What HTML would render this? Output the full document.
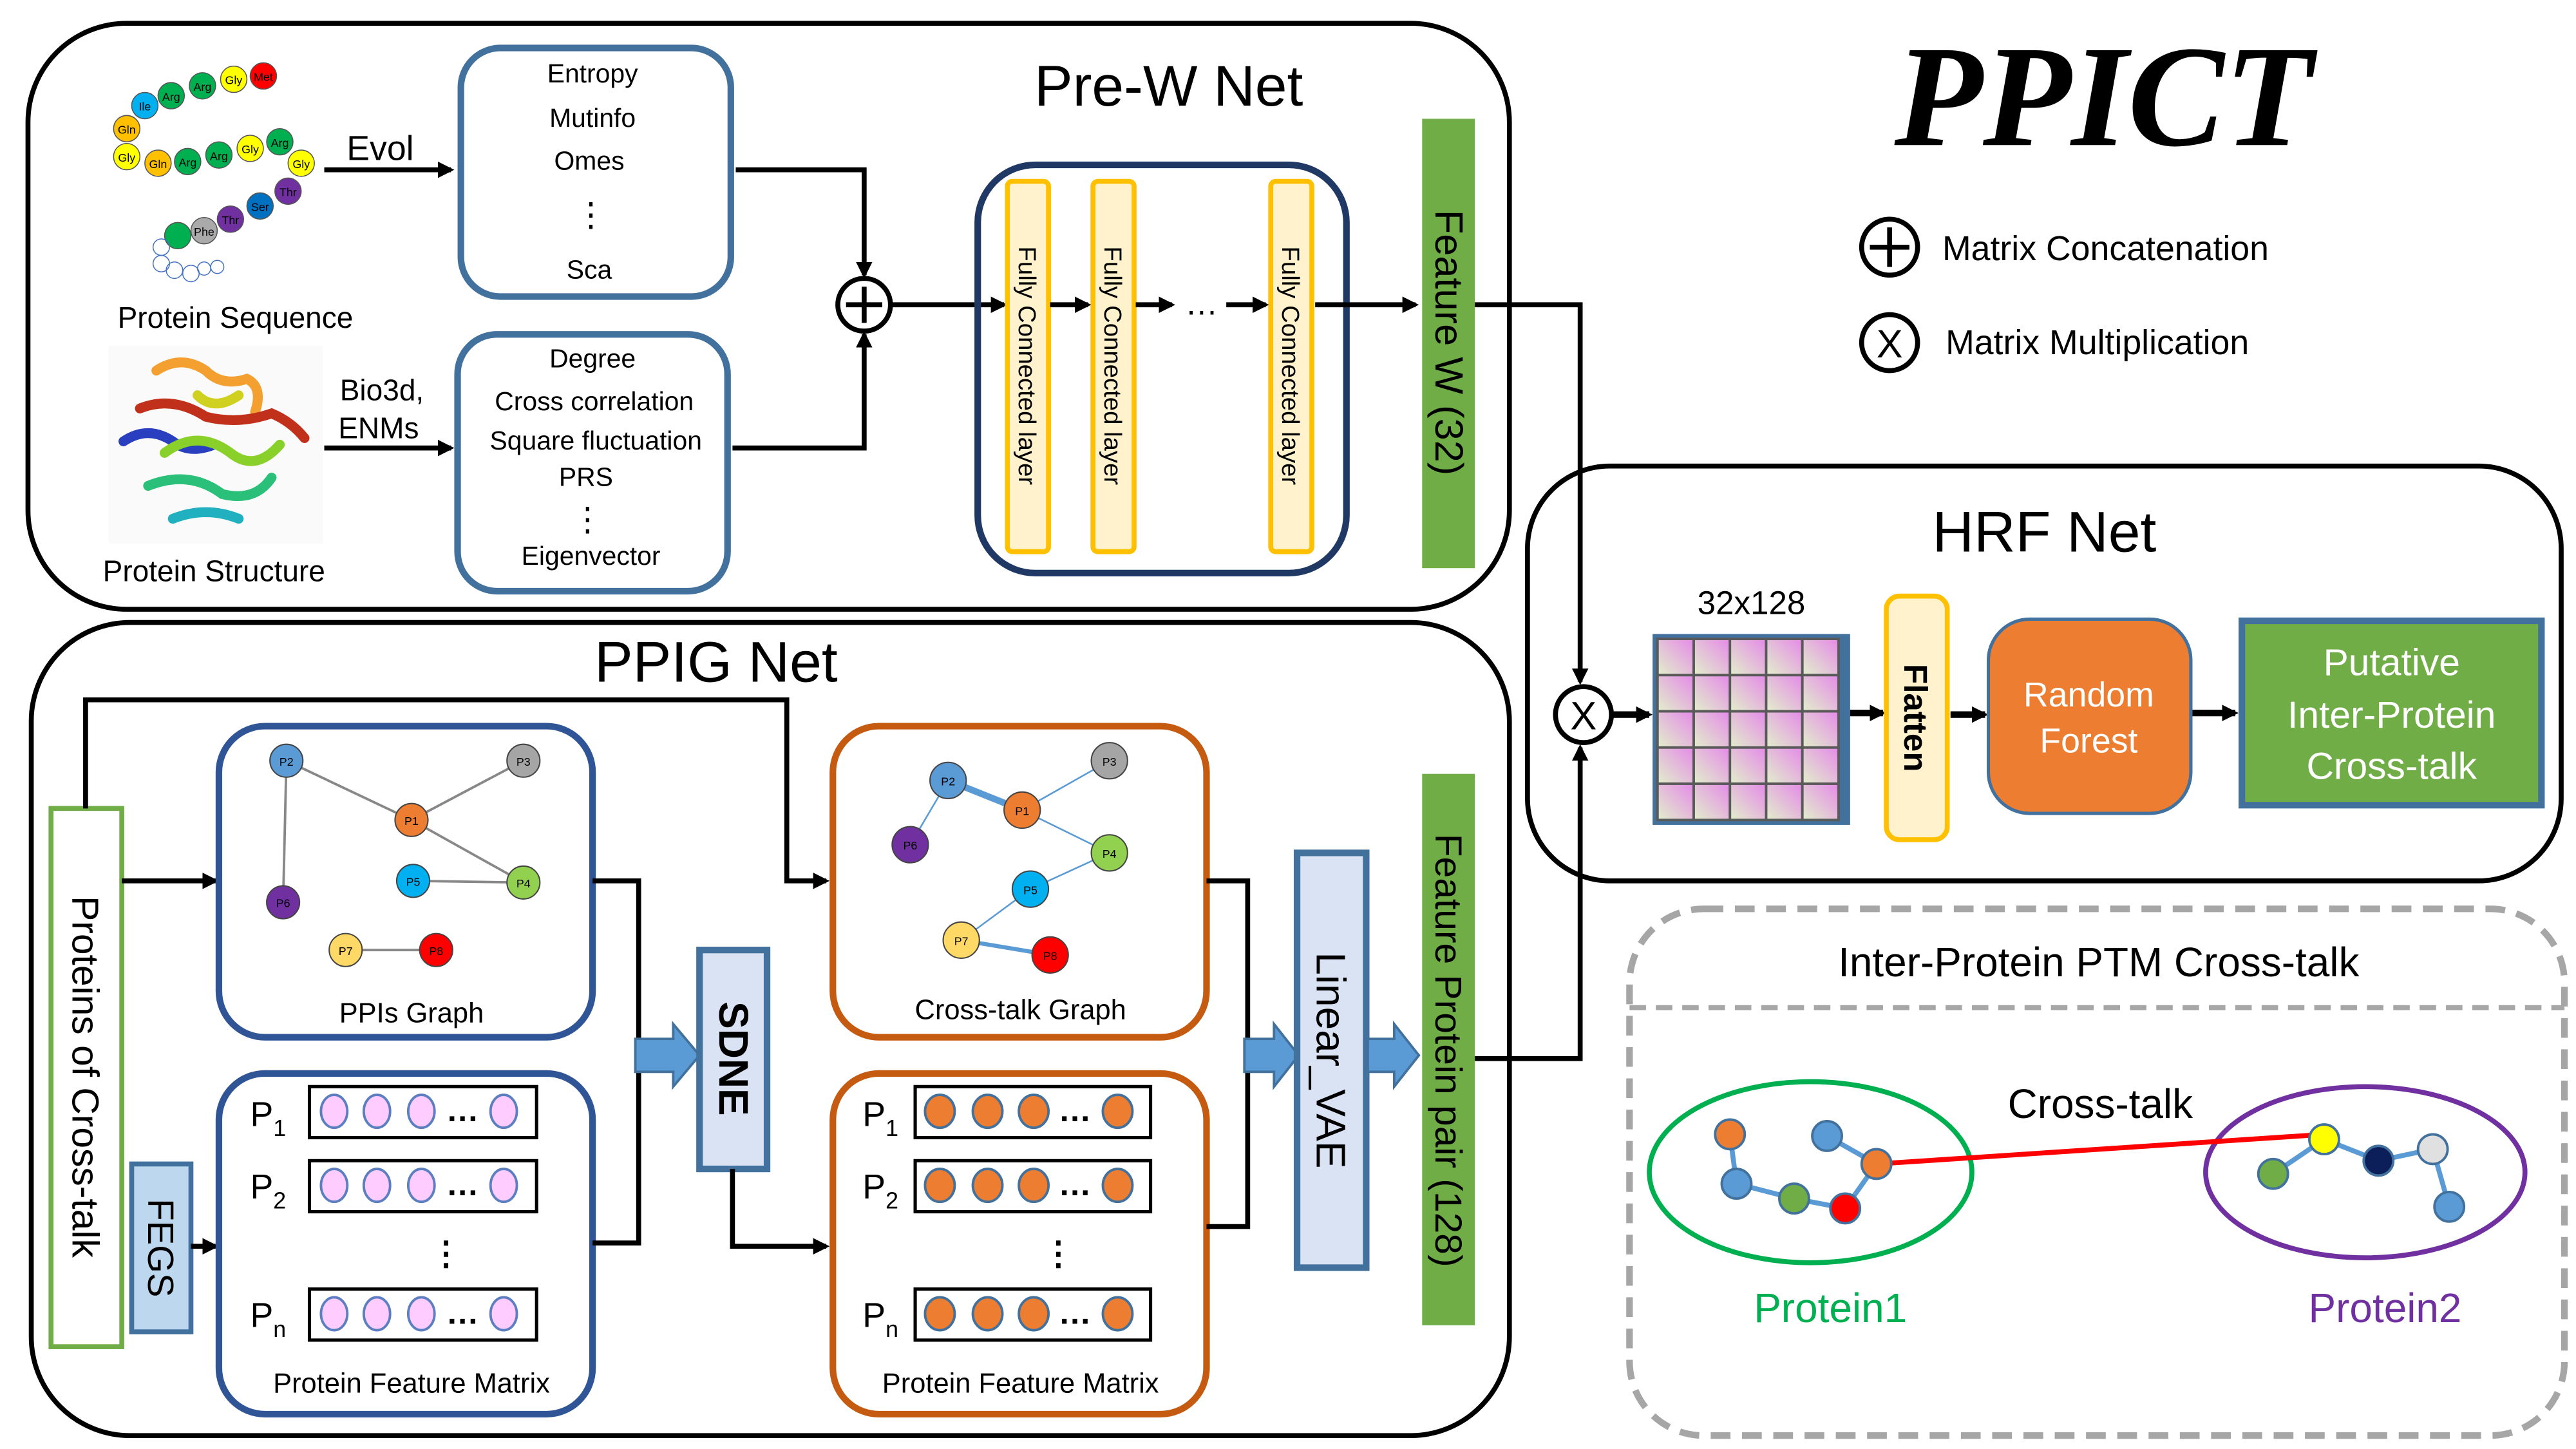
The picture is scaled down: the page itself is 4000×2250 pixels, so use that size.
<!DOCTYPE html>
<html><head><meta charset="utf-8"><style>
html,body{margin:0;padding:0;background:#fff;}
svg{display:block;}
text{font-family:"Liberation Sans",sans-serif;}
text.ppict{font-family:"Liberation Serif",serif;font-style:italic;font-weight:bold;}
</style></head><body>
<svg width="4000" height="2250" viewBox="0 0 1565 880" xmlns="http://www.w3.org/2000/svg">
<defs>
<marker id="ah" markerWidth="10" markerHeight="10" refX="8" refY="5" orient="auto" markerUnits="userSpaceOnUse"><path d="M0,0 L10,5 L0,10 z" fill="#000"/></marker>
<linearGradient id="cell" x1="0" y1="1" x2="1" y2="0"><stop offset="0" stop-color="#e2f0cb"/><stop offset="1" stop-color="#e58ae8"/></linearGradient>
</defs>
<rect width="1565" height="880" fill="#fff"/>

<!-- Pre-W Net -->
<rect x="17" y="14" width="900" height="356" rx="60" fill="none" stroke="#000" stroke-width="3"/>
<text x="710" y="64" font-size="35" text-anchor="middle">Pre-W Net</text>
<g font-size="7" text-anchor="middle" stroke-width="0.6">
<g stroke="#555">
<circle cx="160" cy="46" r="8" fill="#ff0000"/><circle cx="142" cy="48" r="8" fill="#ffff00"/><circle cx="123" cy="52" r="8" fill="#00b050"/><circle cx="104" cy="58" r="8" fill="#00b050"/><circle cx="88" cy="64" r="8" fill="#00b0f0"/><circle cx="77" cy="78" r="8" fill="#ffc000"/>
<circle cx="77" cy="95" r="8" fill="#ffff00"/><circle cx="96" cy="99" r="8" fill="#ffc000"/><circle cx="114" cy="98" r="8" fill="#00b050"/><circle cx="133" cy="94" r="8" fill="#00b050"/><circle cx="152" cy="90" r="8" fill="#ffff00"/><circle cx="170" cy="86" r="8" fill="#00b050"/><circle cx="183" cy="99" r="8" fill="#ffff00"/>
<circle cx="175" cy="116" r="8" fill="#7030a0"/><circle cx="158" cy="125" r="8" fill="#0070c0"/><circle cx="140" cy="133" r="8" fill="#7030a0"/><circle cx="124" cy="140" r="8" fill="#aaa"/><circle cx="108" cy="143" r="8" fill="#00b050"/>
</g>
<g fill="none" stroke="#4472c4"><circle cx="98" cy="150" r="5"/><circle cx="98" cy="160" r="5"/><circle cx="106" cy="164" r="5"/><circle cx="116" cy="166" r="5"/><circle cx="124" cy="163" r="4"/><circle cx="132" cy="162" r="4"/></g>
<text x="160" y="49">Met</text><text x="142" y="51">Gly</text><text x="123" y="55">Arg</text><text x="104" y="61">Arg</text><text x="88" y="67">Ile</text><text x="77" y="81">Gln</text><text x="77" y="98">Gly</text><text x="96" y="102">Gln</text><text x="114" y="101">Arg</text><text x="133" y="97">Arg</text><text x="152" y="93">Gly</text><text x="170" y="89">Arg</text><text x="183" y="102">Gly</text><text x="175" y="119">Thr</text><text x="158" y="128">Ser</text><text x="140" y="136">Thr</text><text x="124" y="143">Phe</text>
</g>
<text x="143" y="199" font-size="18" text-anchor="middle">Protein Sequence</text>
<rect x="66" y="210" width="130" height="120" fill="#fafafa"/>
<g fill="none" stroke-width="6" stroke-linecap="round">
<path d="M95,225 q15,-10 30,0 q10,10 25,5 q10,5 5,20" stroke="#f4a030"/>
<path d="M85,248 q20,-8 40,5 q20,5 40,-2 q12,5 20,15" stroke="#c0301a"/>
<path d="M75,268 q15,-10 30,0 q10,8 25,2" stroke="#2a3fbf"/>
<path d="M100,275 q20,-15 40,0 q15,12 30,-5" stroke="#8ad02a"/>
<path d="M90,295 q25,-10 45,5 q20,5 30,-10" stroke="#2bc07a"/>
<path d="M105,315 q20,-8 40,0" stroke="#20b0c0"/>
<path d="M120,240 q10,10 25,0" stroke="#d0d020"/>
</g>
<text x="130" y="353" font-size="18" text-anchor="middle">Protein Structure</text>
<text x="231" y="97" font-size="21" text-anchor="middle">Evol</text>
<line x1="197" y1="103" x2="274" y2="103" stroke="#000" stroke-width="3" marker-end="url(#ah)"/>
<text x="232" y="243" font-size="18" text-anchor="middle">Bio3d,</text>
<text x="230" y="266" font-size="18" text-anchor="middle">ENMs</text>
<line x1="197" y1="272" x2="274" y2="272" stroke="#000" stroke-width="3" marker-end="url(#ah)"/>
<rect x="280" y="29" width="164" height="151" rx="24" fill="#fff" stroke="#41719c" stroke-width="4"/>
<g font-size="16" text-anchor="middle">
<text x="360" y="50">Entropy</text><text x="360" y="77">Mutinfo</text><text x="358" y="103">Omes</text><text x="359" y="137" font-size="20">⋮</text><text x="358" y="169">Sca</text>
</g>
<rect x="278" y="203" width="164" height="156" rx="24" fill="#fff" stroke="#41719c" stroke-width="4"/>
<g font-size="16" text-anchor="middle">
<text x="360" y="223">Degree</text><text x="361" y="249">Cross correlation</text><text x="362" y="273">Square fluctuation</text><text x="356" y="295">PRS</text><text x="357" y="322" font-size="20">⋮</text><text x="359" y="343">Eigenvector</text>
</g>
<polyline points="447,103 525,103 525,167" fill="none" stroke="#000" stroke-width="3" marker-end="url(#ah)"/>
<polyline points="445,272 525,272 525,203" fill="none" stroke="#000" stroke-width="3" marker-end="url(#ah)"/>
<circle cx="525" cy="185" r="16" fill="#fff" stroke="#000" stroke-width="3"/>
<line x1="514" y1="185" x2="536" y2="185" stroke="#000" stroke-width="3"/><line x1="525" y1="174" x2="525" y2="196" stroke="#000" stroke-width="3"/>
<line x1="541" y1="185" x2="610" y2="185" stroke="#000" stroke-width="3" marker-end="url(#ah)"/>
<rect x="594" y="100" width="224" height="248" rx="35" fill="none" stroke="#1f3864" stroke-width="4"/>
<g fill="#fff2cc" stroke="#ffc000" stroke-width="3">
<rect x="612" y="110" width="25" height="225" rx="3"/><rect x="664" y="110" width="25" height="225" rx="3"/><rect x="772" y="110" width="25" height="225" rx="3"/>
</g>
<g font-size="15" text-anchor="middle">
<text transform="translate(619,222) rotate(90)">Fully Connected layer</text>
<text transform="translate(671,222) rotate(90)">Fully Connected layer</text>
<text transform="translate(779,222) rotate(90)">Fully Connected layer</text>
</g>
<line x1="638" y1="185" x2="661" y2="185" stroke="#000" stroke-width="3" marker-end="url(#ah)"/>
<line x1="690" y1="185" x2="712" y2="185" stroke="#000" stroke-width="3" marker-end="url(#ah)"/>
<text x="730" y="191" font-size="20" text-anchor="middle">…</text>
<line x1="745" y1="185" x2="769" y2="185" stroke="#000" stroke-width="3" marker-end="url(#ah)"/>
<line x1="799" y1="185" x2="860" y2="185" stroke="#000" stroke-width="3" marker-end="url(#ah)"/>
<rect x="864" y="72" width="32" height="273" fill="#70ad47"/>
<text transform="translate(872,208) rotate(90)" font-size="24" text-anchor="middle">Feature W (32)</text>
<polyline points="896,185 960,185 960,414" fill="none" stroke="#000" stroke-width="3" marker-end="url(#ah)"/>

<!-- PPICT & legend -->
<text class="ppict" x="1278" y="88" font-size="88" text-anchor="middle">PPICT</text>
<circle cx="1148" cy="150" r="17" fill="none" stroke="#000" stroke-width="3"/>
<line x1="1136" y1="150" x2="1160" y2="150" stroke="#000" stroke-width="3"/><line x1="1148" y1="138" x2="1148" y2="162" stroke="#000" stroke-width="3"/>
<text x="1180" y="158" font-size="21">Matrix Concatenation</text>
<circle cx="1148" cy="208" r="17" fill="none" stroke="#000" stroke-width="3"/>
<text x="1148" y="217" font-size="24" text-anchor="middle">X</text>
<text x="1182" y="215" font-size="21">Matrix Multiplication</text>

<!-- HRF Net -->
<rect x="928" y="283" width="628" height="252" rx="50" fill="none" stroke="#000" stroke-width="3"/>
<text x="1242" y="335" font-size="35" text-anchor="middle">HRF Net</text>
<circle cx="962" cy="434" r="17" fill="#fff" stroke="#000" stroke-width="3"/>
<text x="962" y="443" font-size="24" text-anchor="middle">X</text>
<polyline points="896,643 960,643 960,454" fill="none" stroke="#000" stroke-width="3" marker-end="url(#ah)"/>
<line x1="979" y1="434" x2="1002" y2="434" stroke="#000" stroke-width="4" marker-end="url(#ah)"/>
<text x="1064" y="373" font-size="20" text-anchor="middle">32x128</text>
<rect x="1004" y="385" width="120" height="116" fill="#41719c"/>
<g fill="url(#cell)" stroke="#595959" stroke-width="1.5">
<rect x="1007" y="388" width="22" height="22"/><rect x="1029" y="388" width="22" height="22"/><rect x="1051" y="388" width="22" height="22"/><rect x="1073" y="388" width="22" height="22"/><rect x="1095" y="388" width="22" height="22"/>
<rect x="1007" y="410" width="22" height="22"/><rect x="1029" y="410" width="22" height="22"/><rect x="1051" y="410" width="22" height="22"/><rect x="1073" y="410" width="22" height="22"/><rect x="1095" y="410" width="22" height="22"/>
<rect x="1007" y="432" width="22" height="22"/><rect x="1029" y="432" width="22" height="22"/><rect x="1051" y="432" width="22" height="22"/><rect x="1073" y="432" width="22" height="22"/><rect x="1095" y="432" width="22" height="22"/>
<rect x="1007" y="454" width="22" height="22"/><rect x="1029" y="454" width="22" height="22"/><rect x="1051" y="454" width="22" height="22"/><rect x="1073" y="454" width="22" height="22"/><rect x="1095" y="454" width="22" height="22"/>
<rect x="1007" y="476" width="22" height="22"/><rect x="1029" y="476" width="22" height="22"/><rect x="1051" y="476" width="22" height="22"/><rect x="1073" y="476" width="22" height="22"/><rect x="1095" y="476" width="22" height="22"/>
</g>
<line x1="1124" y1="433" x2="1144" y2="433" stroke="#000" stroke-width="4" marker-end="url(#ah)"/>
<rect x="1146" y="362" width="37" height="148" rx="8" fill="#fff2cc" stroke="#ffc000" stroke-width="3"/>
<text transform="translate(1157,436) rotate(90)" font-size="20" font-weight="bold" text-anchor="middle">Flatten</text>
<line x1="1185" y1="434" x2="1206" y2="434" stroke="#000" stroke-width="4" marker-end="url(#ah)"/>
<rect x="1208" y="376" width="123" height="118" rx="25" fill="#ed7d31" stroke="#41719c" stroke-width="2"/>
<text x="1269" y="429" font-size="21" fill="#fff" text-anchor="middle">Random</text>
<text x="1269" y="457" font-size="21" fill="#fff" text-anchor="middle">Forest</text>
<line x1="1332" y1="433" x2="1358" y2="433" stroke="#000" stroke-width="4" marker-end="url(#ah)"/>
<rect x="1362" y="377" width="182" height="112" fill="#70ad47" stroke="#41719c" stroke-width="4"/>
<g font-size="23" fill="#fff" text-anchor="middle"><text x="1453" y="410">Putative</text><text x="1453" y="442">Inter-Protein</text><text x="1453" y="473">Cross-talk</text></g>

<!-- PTM -->
<rect x="990" y="552" width="568" height="320" rx="45" fill="none" stroke="#a6a6a6" stroke-width="4" stroke-dasharray="12,7"/>
<line x1="990" y1="612" x2="1558" y2="612" stroke="#a6a6a6" stroke-width="3" stroke-dasharray="10,6"/>
<text x="1275" y="593" font-size="25" text-anchor="middle">Inter-Protein PTM Cross-talk</text>
<ellipse cx="1100" cy="712" rx="98" ry="55" fill="none" stroke="#00b050" stroke-width="3"/>
<ellipse cx="1437" cy="712" rx="97" ry="52" fill="none" stroke="#7030a0" stroke-width="3"/>
<g stroke="#5b9bd5" stroke-width="3"><polyline points="1051,689 1055,719 1090,728 1121,734 1140,707 1110,690" fill="none"/><polyline points="1381,713 1412,692 1445,705 1478,698 1488,733" fill="none"/></g>
<line x1="1140" y1="707" x2="1412" y2="689" stroke="#ff0000" stroke-width="3"/>
<g stroke="#41719c" stroke-width="1.5">
<circle cx="1051" cy="689" r="9" fill="#ed7d31"/><circle cx="1110" cy="690" r="9" fill="#5b9bd5"/><circle cx="1055" cy="719" r="9" fill="#5b9bd5"/><circle cx="1090" cy="728" r="9" fill="#70ad47"/><circle cx="1121" cy="734" r="9" fill="#ff0000"/><circle cx="1140" cy="707" r="9" fill="#ed7d31"/>
<circle cx="1412" cy="692" r="9" fill="#ffff00"/><circle cx="1381" cy="713" r="9" fill="#70ad47"/><circle cx="1445" cy="705" r="9" fill="#0c1f5a"/><circle cx="1478" cy="698" r="9" fill="#e0e0e0"/><circle cx="1488" cy="733" r="9" fill="#5b9bd5"/>
</g>
<text x="1276" y="679" font-size="25" text-anchor="middle">Cross-talk</text>
<text x="1112" y="803" font-size="25" fill="#00b050" text-anchor="middle">Protein1</text>
<text x="1449" y="803" font-size="25" fill="#7030a0" text-anchor="middle">Protein2</text>

<!-- PPIG Net -->
<rect x="19" y="378" width="898" height="494" rx="60" fill="none" stroke="#000" stroke-width="3"/>
<text x="435" y="414" font-size="35" text-anchor="middle">PPIG Net</text>
<rect x="31" y="491" width="43" height="327" fill="#fff" stroke="#70ad47" stroke-width="3"/>
<text transform="translate(44,654) rotate(90)" font-size="23" text-anchor="middle">Proteins of Cross-talk</text>
<polyline points="52,491 52,425 478,425 478,535 502,535" fill="none" stroke="#000" stroke-width="3" marker-end="url(#ah)"/>
<line x1="74" y1="535" x2="131" y2="535" stroke="#000" stroke-width="3" marker-end="url(#ah)"/>
<rect x="80" y="707" width="36" height="102" fill="#bdd7ee" stroke="#41719c" stroke-width="3"/>
<text transform="translate(90,758) rotate(90)" font-size="22" text-anchor="middle">FEGS</text>
<line x1="116" y1="757" x2="131" y2="757" stroke="#000" stroke-width="3" marker-end="url(#ah)"/>

<rect x="133" y="441" width="227" height="189" rx="28" fill="#fff" stroke="#2f5597" stroke-width="4"/>
<g stroke="#888" stroke-width="1.5"><line x1="174" y1="462" x2="250" y2="498"/><line x1="174" y1="462" x2="172" y2="548"/><line x1="250" y1="498" x2="318" y2="462"/><line x1="250" y1="498" x2="318" y2="536"/><line x1="251" y1="535" x2="318" y2="536"/><line x1="210" y1="577" x2="265" y2="577"/></g>
<g stroke="#444" stroke-width="0.8">
<circle cx="174" cy="462" r="10" fill="#5b9bd5"/><circle cx="318" cy="462" r="10" fill="#a5a5a5"/><circle cx="250" cy="498" r="10" fill="#ed7d31"/><circle cx="172" cy="548" r="10" fill="#7030a0"/><circle cx="251" cy="535" r="10" fill="#00b0f0"/><circle cx="318" cy="536" r="10" fill="#92d050"/><circle cx="210" cy="577" r="10" fill="#ffd966"/><circle cx="265" cy="577" r="10" fill="#ff0000"/>
</g>
<g font-size="7" text-anchor="middle"><text x="174" y="465">P2</text><text x="318" y="465">P3</text><text x="250" y="501">P1</text><text x="172" y="551">P6</text><text x="251" y="538">P5</text><text x="318" y="539">P4</text><text x="210" y="580">P7</text><text x="265" y="580">P8</text></g>
<text x="250" y="621" font-size="17" text-anchor="middle">PPIs Graph</text>

<rect x="133" y="652" width="227" height="207" rx="28" fill="#fff" stroke="#2f5597" stroke-width="4"/>
<rect x="506" y="652" width="227" height="207" rx="28" fill="#fff" stroke="#c55a11" stroke-width="4"/>
<g font-size="21">
<text x="152" y="684">P<tspan font-size="14" dy="6">1</tspan></text><text x="152" y="728">P<tspan font-size="14" dy="6">2</tspan></text><text x="152" y="806">P<tspan font-size="14" dy="6">n</tspan></text>
<text x="524" y="684">P<tspan font-size="14" dy="6">1</tspan></text><text x="524" y="728">P<tspan font-size="14" dy="6">2</tspan></text><text x="524" y="806">P<tspan font-size="14" dy="6">n</tspan></text>
</g>
<g fill="#fff" stroke="#000" stroke-width="2">
<rect x="188" y="660" width="138" height="31"/><rect x="188" y="705" width="138" height="31"/><rect x="188" y="783" width="138" height="31"/>
<rect x="556" y="660" width="143" height="31"/><rect x="556" y="705" width="143" height="31"/><rect x="556" y="783" width="143" height="31"/>
</g>
<g stroke="#5b7fc0" stroke-width="1.5" fill="#ffccff">
<ellipse cx="203" cy="675" rx="8" ry="10"/><ellipse cx="229" cy="675" rx="8" ry="10"/><ellipse cx="256" cy="675" rx="8" ry="10"/><ellipse cx="306" cy="675" rx="8" ry="10"/>
<ellipse cx="203" cy="720" rx="8" ry="10"/><ellipse cx="229" cy="720" rx="8" ry="10"/><ellipse cx="256" cy="720" rx="8" ry="10"/><ellipse cx="306" cy="720" rx="8" ry="10"/>
<ellipse cx="203" cy="798" rx="8" ry="10"/><ellipse cx="229" cy="798" rx="8" ry="10"/><ellipse cx="256" cy="798" rx="8" ry="10"/><ellipse cx="306" cy="798" rx="8" ry="10"/>
</g>
<g stroke="#41719c" stroke-width="1.5" fill="#ed7d31">
<ellipse cx="571" cy="675" rx="9" ry="10"/><ellipse cx="600" cy="675" rx="9" ry="10"/><ellipse cx="628" cy="675" rx="9" ry="10"/><ellipse cx="679" cy="675" rx="9" ry="10"/>
<ellipse cx="571" cy="720" rx="9" ry="10"/><ellipse cx="600" cy="720" rx="9" ry="10"/><ellipse cx="628" cy="720" rx="9" ry="10"/><ellipse cx="679" cy="720" rx="9" ry="10"/>
<ellipse cx="571" cy="798" rx="9" ry="10"/><ellipse cx="600" cy="798" rx="9" ry="10"/><ellipse cx="628" cy="798" rx="9" ry="10"/><ellipse cx="679" cy="798" rx="9" ry="10"/>
</g>
<g font-size="20" font-weight="bold" text-anchor="middle">
<text x="281" y="681">…</text><text x="281" y="726">…</text><text x="281" y="804">…</text>
<text x="653" y="681">…</text><text x="653" y="726">…</text><text x="653" y="804">…</text>
<text x="271" y="768">⋮</text><text x="643" y="768">⋮</text>
</g>
<text x="250" y="846" font-size="17" text-anchor="middle">Protein Feature Matrix</text>
<text x="620" y="846" font-size="17" text-anchor="middle">Protein Feature Matrix</text>

<polyline points="360,535 388,535 388,755 360,755" fill="none" stroke="#000" stroke-width="3"/>
<path d="M386,631 L409,631 L409,622 L425,641 L409,660 L409,651 L386,651 z" fill="#5b9bd5" stroke="#41719c" stroke-width="1.5"/>
<rect x="425" y="577" width="41" height="133" fill="#dae3f3" stroke="#41719c" stroke-width="4"/>
<text transform="translate(437,643) rotate(90)" font-size="25" font-weight="bold" text-anchor="middle">SDNE</text>
<polyline points="445,710 445,757 502,757" fill="none" stroke="#000" stroke-width="3" marker-end="url(#ah)"/>

<rect x="506" y="441" width="227" height="189" rx="28" fill="#fff" stroke="#c55a11" stroke-width="4"/>
<g stroke="#5b9bd5" stroke-width="1"><line x1="576" y1="474" x2="621" y2="492" stroke-width="4"/><line x1="576" y1="474" x2="553" y2="513"/><line x1="621" y1="492" x2="674" y2="462"/><line x1="621" y1="492" x2="674" y2="518"/><line x1="626" y1="540" x2="674" y2="518"/><line x1="584" y1="571" x2="626" y2="540"/><line x1="584" y1="571" x2="638" y2="580" stroke-width="2.5"/></g>
<g stroke="#444" stroke-width="0.8">
<circle cx="576" cy="474" r="11" fill="#5b9bd5"/><circle cx="674" cy="462" r="11" fill="#a5a5a5"/><circle cx="621" cy="492" r="11" fill="#ed7d31"/><circle cx="553" cy="513" r="11" fill="#7030a0"/><circle cx="674" cy="518" r="11" fill="#92d050"/><circle cx="626" cy="540" r="11" fill="#00b0f0"/><circle cx="584" cy="571" r="11" fill="#ffd966"/><circle cx="638" cy="580" r="11" fill="#ff0000"/>
</g>
<g font-size="7" text-anchor="middle"><text x="576" y="477">P2</text><text x="674" y="465">P3</text><text x="621" y="495">P1</text><text x="553" y="516">P6</text><text x="674" y="521">P4</text><text x="626" y="543">P5</text><text x="584" y="574">P7</text><text x="638" y="583">P8</text></g>
<text x="620" y="619" font-size="17" text-anchor="middle">Cross-talk Graph</text>

<polyline points="733,535 758,535 758,745 733,745" fill="none" stroke="#000" stroke-width="3"/>
<path d="M756,631 L774,631 L774,622 L789,641 L774,660 L774,651 L756,651 z" fill="#5b9bd5" stroke="#41719c" stroke-width="1.5"/>
<rect x="788" y="518" width="42" height="252" fill="#dae3f3" stroke="#41719c" stroke-width="4"/>
<text transform="translate(800,644) rotate(90)" font-size="25" text-anchor="middle">Linear_VAE</text>
<path d="M831,631 L847,631 L847,622 L862,641 L847,660 L847,651 L831,651 z" fill="#5b9bd5" stroke="#41719c" stroke-width="1.5"/>
<rect x="864" y="470" width="32" height="335" fill="#70ad47"/>
<text transform="translate(872,638) rotate(90)" font-size="23" text-anchor="middle">Feature Protein pair (128)</text>
</svg>
</body></html>
